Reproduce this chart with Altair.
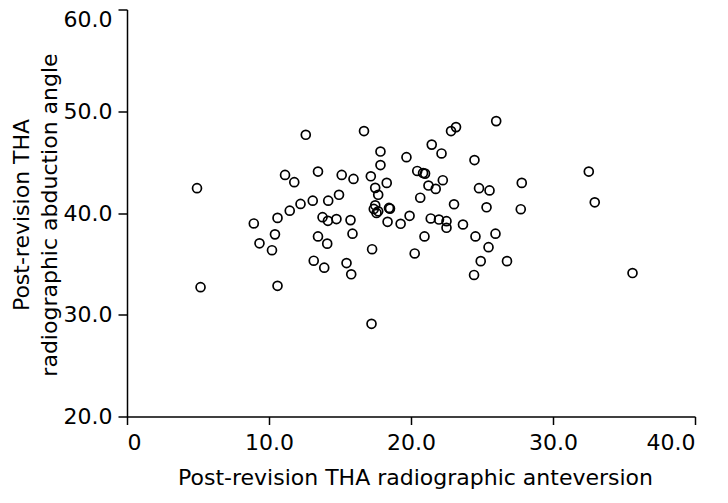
import altair as alt
import pandas as pd

anteversion = [4.93, 5.18, 12.59, 11.13, 11.78, 13.45, 13.08, 12.22, 11.46, 10.60,
               8.93, 10.42, 9.33, 10.21, 13.15, 10.60, 16.69, 17.85, 17.85, 19.68,
               21.46, 22.15, 22.82, 23.17, 26.00, 24.47, 15.12, 15.95, 17.17, 18.29,
               17.48, 17.69, 20.44, 20.85, 20.99, 22.24, 21.23, 21.74, 20.65, 23.03,
               24.79, 25.53, 25.32, 14.93, 14.17, 13.77, 14.15, 14.75, 15.74, 15.88,
               13.45, 14.10, 13.89, 15.46, 15.79, 17.26, 17.22, 17.48, 17.38, 17.57,
               17.69, 18.45, 18.52, 18.35, 19.27, 19.90, 21.39, 21.97, 22.50, 22.50,
               23.66, 20.95, 20.26, 24.54, 25.95, 25.46, 24.91, 24.44, 26.76, 32.52,
               32.94, 27.80, 27.73, 35.60]
abduction = [42.44, 32.71, 47.69, 43.74, 43.03, 44.07, 41.21, 40.89, 40.23, 39.52,
             38.97, 37.90, 37.02, 36.34, 35.31, 32.84, 48.05, 46.04, 44.71, 45.49,
             46.72, 45.85, 48.05, 48.44, 49.03, 45.20, 43.74, 43.35, 43.61, 42.96,
             42.47, 41.79, 44.13, 43.93, 43.87, 43.22, 42.70, 42.37, 41.50, 40.86,
             42.44, 42.22, 40.56, 41.79, 41.21, 39.59, 39.23, 39.40, 39.30, 37.97,
             37.70, 36.99, 34.63, 35.08, 33.98, 36.44, 29.11, 40.76, 40.40, 40.01,
             40.17, 40.50, 40.43, 39.13, 38.94, 39.72, 39.46, 39.36, 39.20, 38.55,
             38.87, 37.70, 36.02, 37.70, 37.97, 36.64, 35.27, 33.91, 35.27, 44.07,
             41.05, 42.96, 40.37, 34.10]

x_ticks = [0, 10, 20, 30, 40]
y_ticks = [20, 30, 40, 50, 60]

df = pd.DataFrame({"ante": anteversion, "abd": abduction})

FONT = "DejaVu Sans"
FS = 22
W, H = 568, 407

chart = alt.Chart(df).mark_point(
    shape="circle", filled=False, color="black", size=80, strokeWidth=1.7, opacity=1
).encode(
    x=alt.X("ante:Q",
            scale=alt.Scale(domain=[0, 40], nice=False, zero=False),
            axis=alt.Axis(values=x_ticks, title="Post-revision THA radiographic anteversion",
                          labelExpr="datum.value == 0 ? '0' : format(datum.value, '.1f')",
                          grid=False, tickSize=8, labelPadding=8,
                          titleX=288, titleY=51, titleBaseline="top")),
    y=alt.Y("abd:Q",
            scale=alt.Scale(domain=[20, 60], nice=False, zero=False),
            axis=alt.Axis(values=y_ticks, format=".1f",
                          title=["Post-revision THA", "radiographic abduction angle"],
                          labelBaseline={"condition": {"test": "datum.value == 60", "value": "top"},
                                         "value": "middle"},
                          grid=False, tickSize=9, labelPadding=6,
                          titleX=-94, titleY=205, titleBaseline="bottom", titleAngle=270)),
).properties(
    width=W, height=H,
    padding={"left": 119, "top": 1.5, "right": 25, "bottom": 75.5},
    autosize=alt.AutoSizeParams(type="none"),
).configure_view(
    stroke=None
).configure_axis(
    domainColor="black", domainWidth=1.5, tickColor="black", tickWidth=1.5,
    labelColor="black", labelFont=FONT, labelFontSize=FS,
    titleColor="black", titleFont=FONT, titleFontSize=FS, titleFontWeight="normal",
    titleLineHeight=28,
)

chart.save("out.html", embed_options={"renderer": "svg", "actions": False})
